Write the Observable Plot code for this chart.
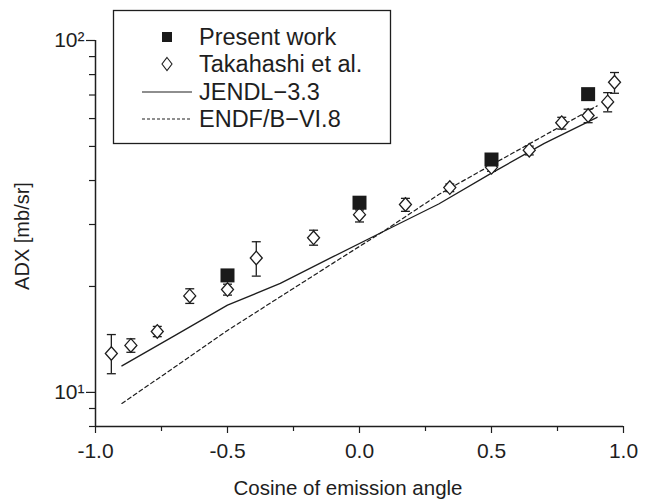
<!DOCTYPE html>
<html>
<head>
<meta charset="utf-8">
<script src="https://cdn.jsdelivr.net/npm/d3@7"></script>
<script src="https://cdn.jsdelivr.net/npm/@observablehq/plot@0.6"></script>
<style>
  html, body { margin: 0; padding: 0; background: #fff; }
  #chart { position: relative; width: 648px; height: 500px; }
</style>
</head>
<body>
<div id="chart"></div>
<script>
// ---- Data ----
const xMajorTicks = [-1, -0.5, 0, 0.5, 1];
const xMinorTicks = [-0.75, -0.25, 0.25, 0.75];
const yMajorTicks = [10, 100];
const yMajorLabels = ["10¹", "10²"];
const yMinorTicks = [8, 9, 20, 30, 40, 50, 60, 70, 80, 90];

// Present work
const presentX = [-0.5, 0, 0.5, 0.866];
const presentY = [21.5, 34.6, 45.9, 70.4];

// Takahashi et al.
const takX  = [-0.940, -0.866, -0.766, -0.643, -0.5, -0.391, -0.174, 0, 0.174, 0.342, 0.5, 0.643, 0.766, 0.866, 0.940, 0.966];
const takY  = [12.9, 13.6, 14.9, 18.8, 19.6, 24.1, 27.5, 32.0, 34.2, 38.2, 43.6, 48.8, 58.4, 61.2, 66.9, 76.1];
const takLo = [11.3, 13.0, 14.4, 17.9, 18.9, 21.4, 26.2, 30.5, 32.7, 37.2, 42.5, 47.3, 56.0, 58.4, 62.7, 70.8];
const takHi = [14.6, 14.2, 15.4, 19.7, 20.3, 26.8, 28.9, 33.0, 35.6, 39.1, 44.6, 50.1, 60.5, 63.8, 71.1, 81.1];

// JENDL-3.3 (solid)
const jendlX = [-0.9, -0.7, -0.5, -0.3, -0.1, 0.1, 0.3, 0.5, 0.7, 0.9];
const jendlY = [11.9, 14.5, 17.7, 20.4, 24.3, 28.9, 34.3, 42.0, 51.0, 60.5];

// ENDF/B-VI.8 (dashed)
const endfX = [-0.9, -0.7, -0.5, -0.3, -0.1, 0.1, 0.3, 0.5, 0.7, 0.9];
const endfY = [9.3, 11.8, 15.0, 18.7, 23.3, 29.0, 36.5, 44.3, 53.7, 65.2];

const legendLabels = ["Present work", "Takahashi et al.", "JENDL\u22123.3", "ENDF/B\u2212VI.8"];
const xLabel = "Cosine of emission angle";
const yLabel = "ADX [mb/sr]";

// ---- Tables ----
const present = presentX.map((x, i) => ({x, y: presentY[i]}));
const tak = takX.map((x, i) => ({x, y: takY[i], lo: takLo[i], hi: takHi[i]}));
const jendl = jendlX.map((x, i) => ({x, y: jendlY[i]}));
const endf = endfX.map((x, i) => ({x, y: endfY[i]}));

const ink = "#1e1e1e";

const capSymbol = {
  draw(ctx, size) {
    const w = Math.sqrt(size / Math.PI);
    ctx.moveTo(-w, 0); ctx.lineTo(w, 0);
  }
};
const diamondSymbol = {
  draw(ctx, size) {
    const r = Math.sqrt(size / Math.PI);
    const h = r * 1.13;
    ctx.moveTo(0, -h); ctx.lineTo(r, 0); ctx.lineTo(0, h); ctx.lineTo(-r, 0); ctx.closePath();
  }
};

const chart = Plot.plot({
  width: 648,
  height: 500,
  marginLeft: 95,
  marginRight: 25,
  marginTop: 40,
  marginBottom: 74,
  style: {fontFamily: "'Liberation Sans', Arial, sans-serif", fontSize: "21px", color: ink, background: "#fff"},
  x: {domain: [-1, 1]},
  y: {type: "log", domain: [8, 100]},
  marks: [
    Plot.axisX({ticks: xMajorTicks, tickSize: 7, tickPadding: 10, fontSize: 21, tickFormat: d => d.toFixed(1), label: null, stroke: ink, strokeWidth: 1.2}),
    Plot.axisX({ticks: xMinorTicks, tickSize: 5, tickFormat: () => "", label: null, stroke: ink, strokeWidth: 1.2}),
    Plot.axisY({ticks: yMajorTicks, tickSize: 9, tickPadding: 2, fontSize: 21, tickFormat: d => yMajorLabels[yMajorTicks.indexOf(d)], label: null, stroke: ink, strokeWidth: 1.2}),
    Plot.axisY({ticks: yMinorTicks, tickSize: 6, tickFormat: () => "", label: null, stroke: ink, strokeWidth: 1.2}),
    Plot.ruleX([-1], {y1: 8, y2: 100, stroke: ink, strokeWidth: 1.5}),
    Plot.ruleY([8], {x1: -1, x2: 1, stroke: ink, strokeWidth: 1.5}),
    Plot.line(jendl, {x: "x", y: "y", stroke: ink, strokeWidth: 1.3}),
    Plot.line(endf, {x: "x", y: "y", stroke: ink, strokeWidth: 1.2, strokeDasharray: "4,3"}),
    Plot.ruleX(tak, {x: "x", y1: "lo", y2: "hi", stroke: ink, strokeWidth: 1.3}),
    Plot.dot(tak, {x: "x", y: "lo", symbol: capSymbol, r: 4.5, stroke: ink, strokeWidth: 1.3}),
    Plot.dot(tak, {x: "x", y: "hi", symbol: capSymbol, r: 4.5, stroke: ink, strokeWidth: 1.3}),
    Plot.dot(tak, {x: "x", y: "y", symbol: diamondSymbol, r: 6, fill: "#fff", stroke: ink, strokeWidth: 1.3}),
    Plot.dot(present, {x: "x", y: "y", symbol: "square", r: 7.9, fill: "#1a1a1a", stroke: "none"})
  ]
});

document.getElementById("chart").appendChild(chart);

// ---- Axis titles and legend ----
const svg = d3.select(chart);
svg.append("text")
  .attr("x", 348).attr("y", 487)
  .attr("text-anchor", "middle").attr("dominant-baseline", "central")
  .attr("fill", ink).style("font-size", "20.5px")
  .text(xLabel);
svg.append("text")
  .attr("transform", "translate(22,236) rotate(-90)")
  .attr("text-anchor", "middle").attr("dominant-baseline", "central")
  .attr("fill", ink).style("font-size", "20px")
  .text(yLabel);

const lg = svg.append("g");
lg.append("rect").attr("x", 113.5).attr("y", 10.5).attr("width", 277).attr("height", 133)
  .attr("fill", "#fff").attr("stroke", ink).attr("stroke-width", 1.3);
const rows = [37, 64, 92, 119];
lg.append("rect").attr("x", 162).attr("y", rows[0] - 5).attr("width", 10).attr("height", 10).attr("fill", "#1a1a1a");
lg.append("path").attr("d", `M167,${rows[1]-6.5}L172,${rows[1]}L167,${rows[1]+6.5}L162,${rows[1]}Z`)
  .attr("fill", "#fff").attr("stroke", ink).attr("stroke-width", 1.1);
lg.append("line").attr("x1", 142).attr("x2", 192).attr("y1", rows[2]).attr("y2", rows[2])
  .attr("stroke", ink).attr("stroke-width", 1.1);
lg.append("line").attr("x1", 142).attr("x2", 192).attr("y1", rows[3]).attr("y2", rows[3])
  .attr("stroke", ink).attr("stroke-width", 1.1).attr("stroke-dasharray", "3,2");
legendLabels.forEach((t, i) => {
  lg.append("text").attr("x", 199).attr("y", rows[i])
    .attr("text-anchor", "start")
    .attr("dominant-baseline", "central").attr("fill", ink)
    .style("font-size", "23.5px")
    .text(t);
});
</script>
</body>
</html>
